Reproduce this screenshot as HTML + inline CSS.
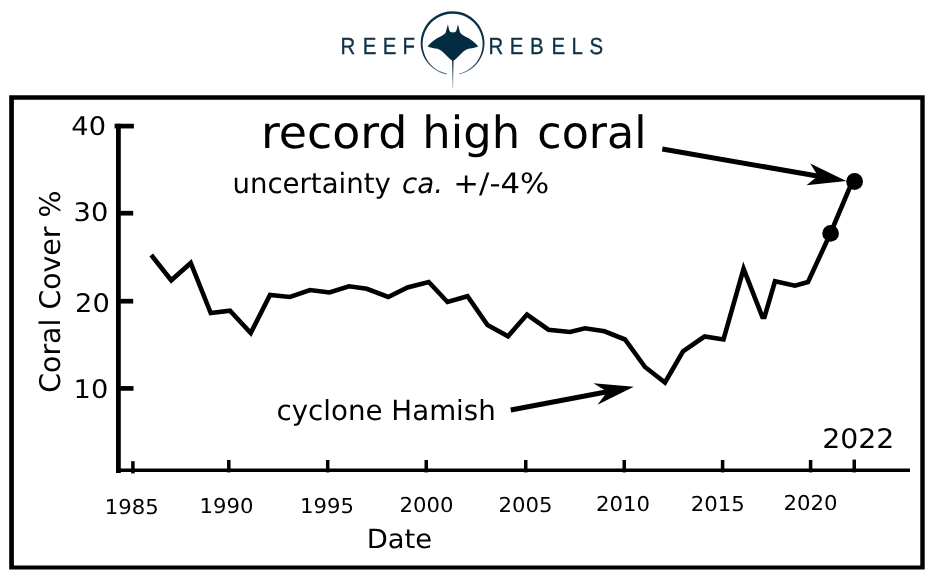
<!DOCTYPE html>
<html lang="en">
<head>
<meta charset="utf-8">
<title>Reef Rebels – Coral Cover</title>
<style>
html,body{margin:0;padding:0;background:#fff;}
body{width:940px;height:574px;overflow:hidden;}
svg{display:block;will-change:transform;filter:blur(0.4px);}
.cht,.logo{text-rendering:geometricPrecision;}
.cht{font-family:"DejaVu Sans","Liberation Sans",sans-serif;fill:#000;}
.logo{font-family:"Liberation Sans",sans-serif;fill:#0c3147;}
</style>
</head>
<body>
<svg width="940" height="574" viewBox="0 0 940 574">
<defs>
  <linearGradient id="ringfade" gradientUnits="userSpaceOnUse" x1="0" y1="57" x2="0" y2="77">
    <stop offset="0" stop-color="#0c3147"/><stop offset="1" stop-color="#7f93a2"/>
  </linearGradient>
  <linearGradient id="tailfade" gradientUnits="userSpaceOnUse" x1="0" y1="60" x2="0" y2="89">
    <stop offset="0" stop-color="#0c3147"/><stop offset="1" stop-color="#a9b6c0"/>
  </linearGradient>
</defs>
<rect width="940" height="574" fill="#fff"/>

<!-- LOGO -->
<g id="logo">
  <g class="logo" font-size="23.2" stroke="#0c3147" stroke-width="0.35" opacity="0.999">
    <text transform="translate(0,53.8) scale(0.88,1)" x="387 412.2 435 457.4">REEF</text>
    <text transform="translate(0,53.8) scale(0.88,1)" x="555.2 579.3 602.3 626.8 649.4 669.8">REBELS</text>
  </g>
  <!-- ring: even at top, tapering toward the gap at the bottom -->
  <path id="ring" fill="url(#ringfade)" d="M446.9,74.5 A31.9,31.9 0 1 1 459.3,74.3 L459.1,73.4 A30,30.2 0 1 0 447.1,73.6 Z"/>
  <!-- manta -->
  <path id="manta" transform="translate(0.4,0)" fill="#042c41" d="M452.5,61.2
    C449.5,59 446.5,56 443.5,53 C441,50.6 438.5,49.2 435.5,48.6 C432.5,48 430,47.5 427.2,46.4
    C429.2,44 432,41.5 434.9,39.5 C438,37.4 443.8,35.2 445.3,32.6
    C446,30.5 446.5,27.5 447.5,24.6
    C448.2,27 448.4,29.5 449.2,31 C450,32.2 451.2,32.4 452.5,32.4
    C453.8,32.4 455,32.2 455.8,31 C456.6,29.5 456.8,27 457.5,24.6
    C458.5,27.5 459,30.5 459.7,32.6
    C461.2,35.2 467,37.4 470.1,39.5 C473,41.5 475.8,44 477.8,46.4
    C475,47.5 472.5,48 469.5,48.6 C466.5,49.2 464,50.6 461.5,53 C458.5,56 455.5,59 452.5,61.2 Z"/>
  <path id="tail" transform="translate(0.3,0)" fill="url(#tailfade)" d="M451.7,59 L453.3,59 L452.8,88.5 L452.2,88.5 Z"/>
</g>

<!-- FRAME -->
<path id="frame" fill="#000" fill-rule="evenodd" d="M9.2,95.3 H924.7 V569.5 H9.2 Z M13.9,99.8 V565.5 H920.3 V99.8 Z"/>

<!-- AXES -->
<g stroke="#000" fill="none" stroke-linecap="butt">
  <path d="M118.4,123.8 V473" stroke-width="4.8"/>
  <path d="M116,470.2 H910" stroke-width="3.4"/>
  <g stroke-width="4.7">
    <path d="M114.6,126.1 H133.9"/>
    <path d="M118,213.2 H133.2"/>
    <path d="M118,301.2 H133.2"/>
    <path d="M118,388.4 H133.5"/>
  </g>
  <g stroke-width="3.5">
    <path d="M132.9,461.2 V473.4"/>
    <path d="M228.8,460 V472.4"/>
    <path d="M327.7,460 V472.4"/>
    <path d="M426.25,460 V472.4"/>
    <path d="M525.75,460 V472.4"/>
    <path d="M624.25,460 V472.4"/>
    <path d="M722.6,460 V472.4"/>
    <path d="M810.6,460 V472.4"/>
    <path d="M854.25,459.6 V472.4"/>
  </g>
</g>

<!-- DATA -->
<polyline fill="none" stroke="#000" stroke-width="4.6" stroke-linejoin="miter" stroke-miterlimit="10"
 points="151.25,255 171.25,280.3 190.75,263 210.75,313 230,310.7 250.75,333 270,295 290,297 310,290 329.5,292.5 349,286.25 366.75,288.75 388.25,297 407.5,287.5 428.75,282 447.5,302 467.5,296.25 487.5,325 508,336.25 527,314.5 548.5,329.75 570,332 585,328.25 604.5,331.25 625,339.5 645,367 665,382.5 683,351.25 704.5,336.5 723.5,339.5 743.6,268.8 762.4,316.9 764.5,316.9 775,281.25 795,285.75 808,282 830.5,233.25 852.3,181.5"/>
<circle cx="830.6" cy="233.4" r="8.3"/>
<circle cx="854.6" cy="181.5" r="8.4"/>

<!-- ARROWS -->
<g id="arrow1" transform="translate(846.3,181) rotate(9.85)">
  <path d="M-186.8,0 H-28" stroke="#000" stroke-width="5" fill="none"/>
  <path d="M0,0 L-38.5,-11.1 L-28.8,0 L-38.5,11.1 Z"/>
</g>
<g id="arrow2" transform="translate(633.8,386.7) rotate(-10.7)">
  <path d="M-125.2,0 H-27" stroke="#000" stroke-width="5" fill="none"/>
  <path d="M0,0 L-39,-11 L-27,0 L-39,11 Z"/>
</g>

<!-- TEXT -->
<g class="cht" opacity="0.999">
  <g font-size="44.5">
    <text transform="translate(260.9,148) scale(1.031,1)">record</text>
    <text transform="translate(422.3,148) scale(1.008,1)">high</text>
    <text transform="translate(537.3,148) scale(0.996,1)">coral</text>
  </g>
  <g font-size="28">
    <text transform="translate(232.5,192.5) scale(0.984,1)">uncertainty</text>
    <text transform="translate(402.1,192.5) scale(0.989,1)" font-style="italic">ca.</text>
    <text transform="translate(453.3,192.5) scale(1.098,1)">+/-4%</text>
  </g>
  <text x="276.5" y="419.5" font-size="27.7">cyclone Hamish</text>
  <text transform="translate(822.2,448.4) scale(1.05,1)" font-size="27">2022</text>
  <text transform="translate(366.7,547.6) scale(1.042,1)" font-size="26.3">Date</text>
  <text transform="translate(59.5,392.8) rotate(-90)" font-size="28.4">Coral Cover %</text>
  <g font-size="25.6" text-anchor="end">
    <text transform="translate(106,134.6) scale(1.065,1)">40</text>
    <text transform="translate(108.3,220.8) scale(1.065,1)">30</text>
    <text transform="translate(109.8,312) scale(1.065,1)">20</text>
    <text transform="translate(108.3,398.1) scale(1.065,1)">10</text>
  </g>
  <g font-size="20.5" text-anchor="middle">
    <text transform="translate(131.85,513.6) scale(1.035,1)">1985</text>
    <text transform="translate(226.55,513) scale(1.035,1)">1990</text>
    <text transform="translate(327,512.6) scale(1.035,1)">1995</text>
    <text transform="translate(426.5,512) scale(1.035,1)">2000</text>
    <text transform="translate(525.4,512) scale(1.035,1)">2005</text>
    <text transform="translate(623.1,510.6) scale(1.035,1)">2010</text>
    <text transform="translate(717.75,511) scale(1.035,1)">2015</text>
    <text transform="translate(810.6,510) scale(1.035,1)">2020</text>
  </g>
</g>
</svg>
</body>
</html>
